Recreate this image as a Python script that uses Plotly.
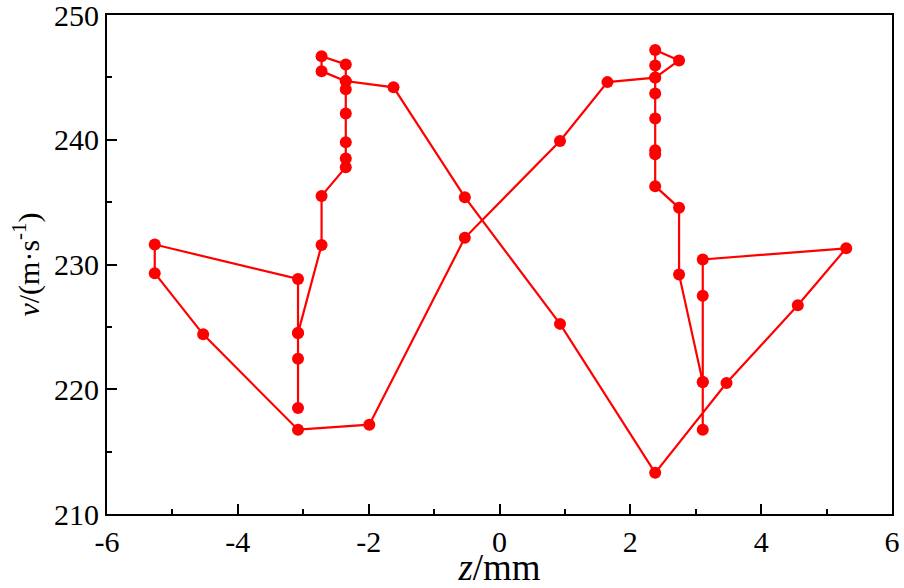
import plotly.graph_objects as go

# Series 1
z1 = [-3.08, -3.08, -3.08, -3.08, -5.27, -5.27, -4.53, -3.08, -1.99, -0.53, 0.925, 1.65,
      2.38, 2.745, 2.38, 2.38, 2.38, 2.38, 2.38, 2.38, 2.38, 2.38, 2.745, 2.745, 3.107]
v1 = [218.5, 222.44, 224.5, 228.84, 231.6, 229.3, 224.4, 216.76, 217.16, 232.14, 239.9, 244.62,
      244.98, 246.36, 247.2, 245.96, 244.98, 243.7, 241.7, 239.16, 238.84, 236.28, 234.54, 229.2, 220.58]

# Series 2
z2 = [-3.08, -2.72, -2.72, -2.35, -2.35, -2.35, -2.35, -2.35, -2.35, -2.72, -2.72, -2.35,
      -2.35, -1.62, -0.53, 0.925, 2.38, 3.47, 4.56, 5.3, 3.107, 3.107, 3.107, 3.107]
v2 = [224.5, 231.56, 235.5, 237.8, 238.5, 239.8, 242.1, 244.04, 244.7, 245.5, 246.7, 246.04,
      244.7, 244.2, 235.4, 225.24, 213.3, 220.5, 226.74, 231.3, 230.4, 227.5, 220.58, 216.76]

x_tickvals = [-6, -4, -2, 0, 2, 4, 6]
x_ticktext = ["-6", "-4", "-2", "0", "2", "4", "6"]
y_tickvals = [210, 220, 230, 240, 250]
y_ticktext = ["210", "220", "230", "240", "250"]

RED = "#FF0000"
fig = go.Figure()
for zs, vs in ((z1, v1), (z2, v2)):
    fig.add_trace(go.Scatter(x=zs, y=vs, mode="lines+markers",
                             line=dict(color=RED, width=2.2),
                             marker=dict(color=RED, size=12),
                             showlegend=False, cliponaxis=False))

font_family = "Liberation Serif"
axis_common = dict(showline=True, linecolor="black", linewidth=2, mirror=True,
                   ticks="inside", ticklen=10, tickwidth=2, tickcolor="black",
                   showgrid=False, zeroline=False, ticklabeloverflow="allow",
                   tickfont=dict(family=font_family, size=30, color="black"))

fig.update_xaxes(range=[-6, 6], tickvals=x_tickvals, ticktext=x_ticktext,
                 minor=dict(ticks="inside", ticklen=5, tickwidth=2, tickcolor="black", dtick=1),
                 title=dict(text="<i>z</i>/mm", font=dict(family=font_family, size=37, color="black"),
                            standoff=6),
                 **axis_common)
fig.update_yaxes(range=[210, 250], tickvals=y_tickvals, ticktext=y_ticktext,
                 minor=dict(ticks="inside", ticklen=5, tickwidth=2, tickcolor="black", dtick=5),
                 title=dict(text="<i>v</i>/(m·s<sup>-1</sup>)",
                            font=dict(family=font_family, size=30, color="black"), standoff=6),
                 **axis_common)

fig.update_layout(width=904, height=588, plot_bgcolor="white", paper_bgcolor="white",
                  margin=dict(l=107, r=12, t=15, b=74, autoexpand=False))

fig.write_html("out.html")
